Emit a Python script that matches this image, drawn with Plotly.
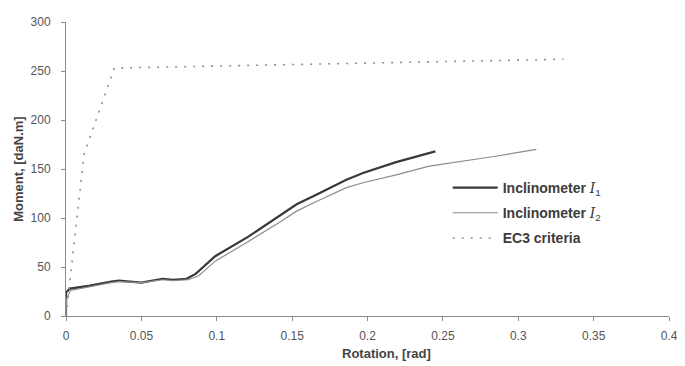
import plotly.graph_objects as go

# Data
rot_i1 = [0, 0, 0.0026, 0.016, 0.030, 0.035, 0.050, 0.064, 0.071, 0.080, 0.086,
          0.099, 0.121, 0.142, 0.153, 0.165, 0.175, 0.186, 0.197, 0.219, 0.245]
mom_i1 = [0, 24, 28, 31, 35, 36, 34, 38, 37, 38, 43,
          61, 81, 103, 114, 123, 131, 139, 146, 157, 168]

rot_i2 = [0, 0.0005, 0.003, 0.016, 0.030, 0.035, 0.050, 0.064, 0.071, 0.081, 0.088,
          0.099, 0.121, 0.142, 0.153, 0.165, 0.175, 0.186, 0.197, 0.219, 0.241,
          0.263, 0.285, 0.312]
mom_i2 = [0, 18, 26, 30, 34, 35, 34, 37, 36, 37, 41,
          56, 76, 96, 107, 116, 123, 131, 136, 144, 153,
          158, 163, 170]

rot_ec3 = [0, 0.012, 0.032, 0.33]
mom_ec3 = [0, 165, 253, 262]

x_tickvals = [0, 0.05, 0.1, 0.15, 0.2, 0.25, 0.3, 0.35, 0.4]
x_ticktext = ["0", "0.05", "0.1", "0.15", "0.2", "0.25", "0.3", "0.35", "0.4"]
y_tickvals = [0, 50, 100, 150, 200, 250, 300]

names = [
    '<b>Inclinometer</b> <span style="font-family:DejaVu Serif"><i>I</i></span><sub>1</sub>',
    '<b>Inclinometer</b> <span style="font-family:DejaVu Serif"><i>I</i></span><sub>2</sub>',
    '<b>EC3 criteria</b>',
]

fig = go.Figure()
fig.add_trace(go.Scatter(x=rot_i1, y=mom_i1, mode="lines", name=names[0],
                         legendgroup="a",
                         line=dict(color="#383838", width=2.2)))
fig.add_trace(go.Scatter(x=rot_i2, y=mom_i2, mode="lines", name=names[1],
                         legendgroup="b",
                         line=dict(color="#8c8c8c", width=1.2)))
fig.add_trace(go.Scatter(x=rot_ec3, y=mom_ec3, mode="lines", name=names[2],
                         legendgroup="c",
                         line=dict(color="#909090", width=1.6, dash="2px,7px")))

# page body has an 8px margin, so the figure is sized to fit inside the window
fig.update_layout(
    width=677, height=358,
    margin=dict(l=58, r=9, t=7, b=50),
    paper_bgcolor="white", plot_bgcolor="white",
    font=dict(family="Liberation Sans, Arial, sans-serif", color="#4a4a4a", size=12),
    legend=dict(x=0.633, y=0.49, xanchor="left", yanchor="top",
                bgcolor="rgba(0,0,0,0)", font=dict(size=14, color="#3c3c3c"),
                tracegroupgap=4, itemwidth=45),
    showlegend=True,
    annotations=[
        dict(text="<b>Rotation, [rad]</b>", x=0.531, y=-0.126, xref="paper", yref="paper",
             xanchor="center", yanchor="middle", showarrow=False,
             font=dict(size=13, color="#444")),
        dict(text="<b>Moment, [daN.m]</b>", x=-0.08, y=0.5, xref="paper", yref="paper",
             xanchor="center", yanchor="middle", showarrow=False, textangle=-90,
             font=dict(size=13, color="#444")),
    ],
)

fig.update_xaxes(range=[0, 0.4], tickvals=x_tickvals, ticktext=x_ticktext,
                 showgrid=False, zeroline=False, showline=True, linecolor="#8a8a8a",
                 linewidth=1, ticks="outside", ticklen=4, tickcolor="#8a8a8a",
                 ticklabelstandoff=5, tickfont=dict(size=12, color="#555"))
fig.update_yaxes(range=[0, 300], tickvals=y_tickvals,
                 showgrid=False, zeroline=False, showline=True, linecolor="#8a8a8a",
                 linewidth=1, ticks="outside", ticklen=4, tickcolor="#8a8a8a",
                 ticklabelstandoff=8, tickfont=dict(size=12, color="#555"))

fig.write_html("out.html")
